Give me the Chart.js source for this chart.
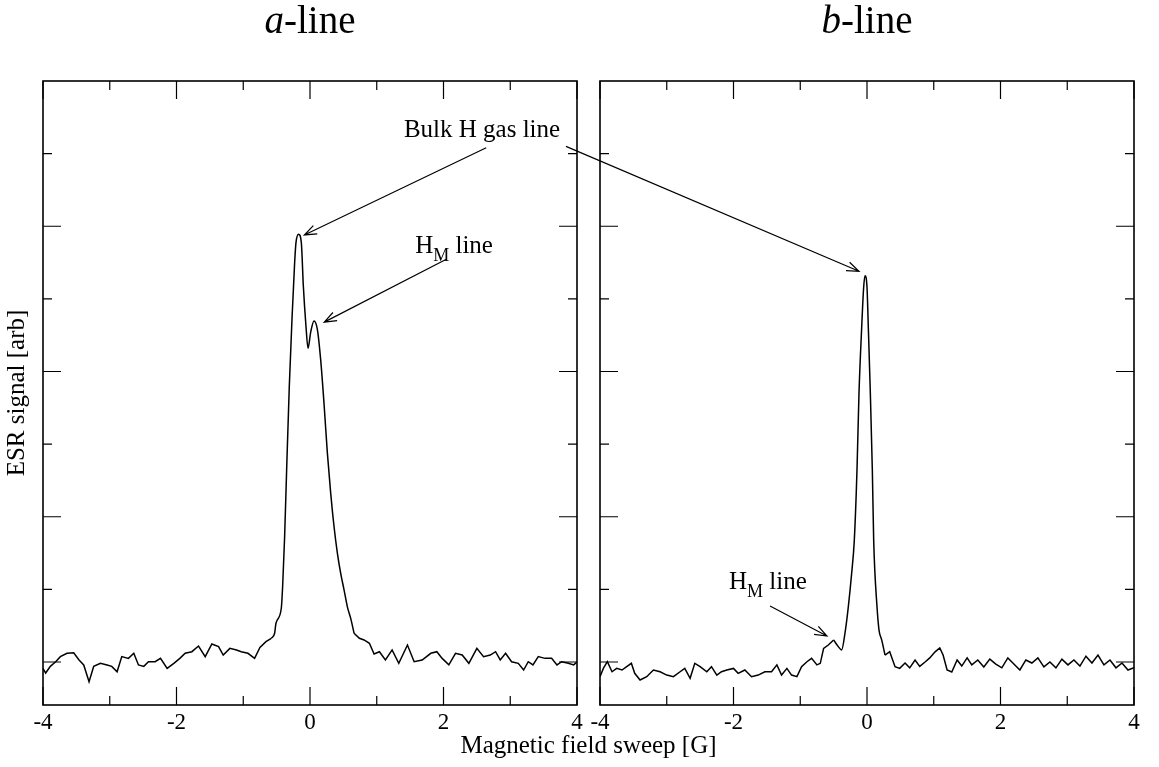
<!DOCTYPE html>
<html>
<head>
<meta charset="utf-8">
<script src="https://cdn.jsdelivr.net/npm/chart.js@4"></script>
<style>
  html, body { margin: 0; padding: 0; background: #fff; }
  #wrap { position: relative; width: 1159px; height: 767px; }
  #wrap canvas { position: absolute; left: 0; top: 0; }
</style>
</head>
<body>
<div id="wrap">
  <canvas id="chartA" width="1159" height="767"></canvas>
  <canvas id="chartB" width="1159" height="767"></canvas>
</div>
<script>
// a-line sweep (field in G, signal in arb units)
const fieldA = [
  -4.00,-3.96,-3.89,-3.81,-3.74,-3.64,-3.54,-3.46,-3.39,-3.31,
  -3.24,-3.14,-3.04,-2.97,-2.89,-2.82,-2.72,-2.64,-2.57,-2.49,
  -2.42,-2.32,-2.24,-2.14,-2.04,-1.95,-1.87,-1.77,-1.67,-1.57,
  -1.47,-1.37,-1.30,-1.20,-1.10,-1.03,-0.93,-0.83,-0.75,-0.66,
  -0.58,-0.53,-0.51,-0.43,-0.41,-0.38,-0.35,-0.31,-0.27,-0.23,
  -0.21,-0.17,-0.13,-0.10,-0.06,-0.03,0.01,0.06,0.11,0.16,
  0.21,0.26,0.31,0.36,0.41,0.46,0.51,0.56,0.61,0.66,
  0.74,0.81,0.89,0.96,1.04,1.13,1.23,1.33,1.46,1.56,
  1.68,1.81,1.90,1.98,2.08,2.18,2.28,2.38,2.50,2.60,
  2.70,2.78,2.85,2.93,3.02,3.12,3.20,3.27,3.34,3.42,
  3.52,3.62,3.70,3.77,3.87,3.95,4.00
];
const signalA = [
  -0.044,-0.076,-0.03,0.002,0.037,0.06,0.064,0.014,-0.02,-0.136,
  -0.03,-0.009,-0.02,-0.03,-0.067,0.037,0.025,0.06,-0.02,-0.03,
  0.002,0.002,0.025,-0.044,-0.009,0.025,0.06,0.071,0.11,0.037,
  0.124,0.106,0.048,0.094,0.083,0.071,0.06,0.025,0.10,0.14,
  0.163,0.198,0.267,0.37,0.52,0.864,1.324,1.9,2.36,2.75,
  2.887,2.945,2.887,2.59,2.31,2.16,2.27,2.347,2.29,2.08,
  1.78,1.44,1.163,0.933,0.75,0.61,0.497,0.38,0.30,0.198,
  0.163,0.152,0.129,0.055,0.071,0.014,0.083,-0.009,0.117,0.002,
  0.014,0.06,0.071,0.025,-0.02,0.06,0.048,-0.009,0.094,0.037,
  0.048,0.071,0.014,0.06,0.002,-0.009,-0.055,0.002,-0.02,0.037,
  0.025,0.025,-0.02,0.002,-0.009,-0.02,0.0
];

// b-line sweep
const fieldB = [
  -4.00,-3.95,-3.89,-3.82,-3.75,-3.67,-3.60,-3.53,-3.48,-3.40,
  -3.30,-3.20,-3.10,-3.00,-2.90,-2.80,-2.73,-2.65,-2.58,-2.50,
  -2.40,-2.33,-2.25,-2.18,-2.10,-2.00,-1.93,-1.83,-1.73,-1.63,
  -1.53,-1.43,-1.35,-1.28,-1.20,-1.13,-1.05,-0.98,-0.90,-0.83,
  -0.75,-0.70,-0.65,-0.58,-0.50,-0.43,-0.38,-0.33,-0.28,-0.23,
  -0.19,-0.15,-0.12,-0.08,-0.05,-0.03,0.00,0.02,0.05,0.08,
  0.10,0.15,0.18,0.22,0.27,0.34,0.42,0.49,0.57,0.64,
  0.72,0.79,0.87,0.94,1.02,1.09,1.14,1.20,1.27,1.35,
  1.42,1.50,1.57,1.66,1.75,1.84,1.93,2.02,2.11,2.20,
  2.29,2.38,2.47,2.56,2.65,2.74,2.83,2.92,3.01,3.10,
  3.19,3.28,3.37,3.46,3.55,3.64,3.73,3.82,3.91,4.00
];
const signalB = [
  -0.101,-0.044,0.002,-0.067,-0.044,-0.055,-0.032,-0.009,-0.078,-0.124,
  -0.101,-0.055,-0.067,-0.09,-0.101,-0.067,-0.044,-0.112,-0.009,-0.032,
  -0.067,-0.032,-0.09,-0.067,-0.055,-0.044,-0.078,-0.055,-0.101,-0.09,
  -0.067,-0.067,-0.02,-0.09,-0.044,-0.09,-0.101,-0.032,0.002,0.025,
  -0.02,-0.009,0.094,0.117,0.152,0.106,0.083,0.198,0.38,0.61,
  0.84,1.32,1.85,2.3,2.58,2.66,2.58,2.3,1.85,1.32,
  0.84,0.38,0.22,0.152,0.048,0.071,-0.032,-0.044,-0.007,-0.04,
  0.014,-0.03,0,0.028,0.07,0.097,0.048,-0.055,-0.069,0.014,
  -0.028,0.028,-0.02,0.014,-0.034,0.02,-0.014,-0.04,0.028,-0.014,
  -0.055,0.014,-0.007,0.028,-0.034,0,-0.04,0.02,-0.02,0.014,
  -0.028,0.04,-0.007,0.048,-0.02,0.014,-0.04,-0.007,-0.055,-0.04
];

// axes
const xTicks = [-4, -3, -2, -1, 0, 1, 2, 3, 4];
const xLabelValues = [-4, -2, 0, 2, 4];
const xTickLabels = ['-4', '-2', '0', '2', '4'];
const yTicks = [0, 0.5, 1, 1.5, 2, 2.5, 3, 3.5];
const yMajor = [0, 1, 2, 3];

const SERIF = '"Liberation Serif", "Times New Roman", serif';
Chart.defaults.font.family = SERIF;
Chart.defaults.color = '#000';

function arrow(ctx, x1, y1, x2, y2) {
  const a = Math.atan2(y2 - y1, x2 - x1), L = 13, w = 0.36;
  ctx.beginPath();
  ctx.moveTo(x1, y1);
  ctx.lineTo(x2, y2);
  ctx.moveTo(x2 - L * Math.cos(a - w), y2 - L * Math.sin(a - w));
  ctx.lineTo(x2, y2);
  ctx.lineTo(x2 - L * Math.cos(a + w), y2 - L * Math.sin(a + w));
  ctx.stroke();
}

// H with subscript M followed by " line"
function hmLabel(ctx, x, y) {
  ctx.font = '25px ' + SERIF;
  ctx.fillText('H', x, y);
  let w = ctx.measureText('H').width;
  ctx.font = '18px ' + SERIF;
  ctx.fillText('M', x + w, y + 8);
  w += ctx.measureText('M').width;
  ctx.font = '25px ' + SERIF;
  ctx.fillText(' line', x + w, y);
}

function panelTitle(ctx, cx, y, letter) {
  ctx.font = 'italic 39px ' + SERIF;
  const w1 = ctx.measureText(letter).width;
  ctx.font = '39px ' + SERIF;
  const w2 = ctx.measureText('-line').width;
  const x0 = cx - (w1 + w2) / 2;
  ctx.textAlign = 'left';
  ctx.font = 'italic 39px ' + SERIF;
  ctx.fillText(letter, x0, y);
  ctx.font = '39px ' + SERIF;
  ctx.fillText('-line', x0 + w1, y);
}

const framePlugin = {
  id: 'frame',
  afterDraw(chart) {
    const { ctx, chartArea: a, scales: { x, y } } = chart;
    ctx.save();
    ctx.strokeStyle = '#000';
    ctx.lineWidth = 1.6;
    ctx.strokeRect(a.left, a.top, a.right - a.left, a.bottom - a.top);
    ctx.lineWidth = 1.2;
    ctx.beginPath();
    xTicks.forEach(v => {
      const px = x.getPixelForValue(v);
      const len = xLabelValues.includes(v) ? 18 : 9;
      ctx.moveTo(px, a.bottom); ctx.lineTo(px, a.bottom - len);
      ctx.moveTo(px, a.top); ctx.lineTo(px, a.top + len);
    });
    yTicks.forEach(v => {
      const py = y.getPixelForValue(v);
      const len = yMajor.includes(v) ? 18 : 9;
      ctx.moveTo(a.left, py); ctx.lineTo(a.left + len, py);
      ctx.moveTo(a.right, py); ctx.lineTo(a.right - len, py);
    });
    ctx.stroke();
    ctx.restore();
  }
};

const notesA = {
  id: 'notesA',
  afterDraw(chart) {
    const { ctx, chartArea: a, scales: { x, y } } = chart;
    ctx.save();
    ctx.fillStyle = '#000';
    ctx.strokeStyle = '#000';
    ctx.lineWidth = 1.2;
    ctx.textBaseline = 'alphabetic';
    panelTitle(ctx, (a.left + a.right) / 2, 33, 'a');
    // y axis title
    ctx.save();
    ctx.translate(17, (a.top + a.bottom) / 2);
    ctx.rotate(-Math.PI / 2);
    ctx.font = '25px ' + SERIF;
    ctx.textAlign = 'center';
    ctx.textBaseline = 'middle';
    ctx.fillText('ESR signal [arb]', 0, 0);
    ctx.restore();
    // Bulk H gas line
    ctx.font = '25px ' + SERIF;
    ctx.textAlign = 'left';
    ctx.fillText('Bulk H gas line', x.getPixelForValue(1.407), y.getPixelForValue(3.614));
    arrow(ctx, x.getPixelForValue(2.64), y.getPixelForValue(3.54),
      x.getPixelForValue(-0.085), y.getPixelForValue(2.94));
    // H_M line
    hmLabel(ctx, x.getPixelForValue(1.575), y.getPixelForValue(2.816));
    arrow(ctx, x.getPixelForValue(2.05), y.getPixelForValue(2.775),
      x.getPixelForValue(0.213), y.getPixelForValue(2.34));
    ctx.restore();
  }
};

const notesB = {
  id: 'notesB',
  afterDraw(chart) {
    const { ctx, chartArea: a, scales: { x, y } } = chart;
    ctx.save();
    ctx.fillStyle = '#000';
    ctx.strokeStyle = '#000';
    ctx.lineWidth = 1.2;
    panelTitle(ctx, (a.left + a.right) / 2, 33, 'b');
    // shared x axis title, centred between the panels
    const mid = (chartA.chartArea.right + a.left) / 2;
    ctx.font = '25px ' + SERIF;
    ctx.textAlign = 'center';
    ctx.fillText('Magnetic field sweep [G]', mid, 753);
    // long arrow from Bulk H label to the b-line peak
    arrow(ctx, x.getPixelForValue(-4.51), y.getPixelForValue(3.55),
      x.getPixelForValue(-0.12), y.getPixelForValue(2.69));
    ctx.textAlign = 'left';
    hmLabel(ctx, x.getPixelForValue(-2.067), y.getPixelForValue(0.503));
    arrow(ctx, x.getPixelForValue(-1.453), y.getPixelForValue(0.386),
      x.getPixelForValue(-0.6), y.getPixelForValue(0.179));
    ctx.restore();
  }
};

// noisy baseline drawn with straight segments, the resonance peak smoothed
function makeChart(id, fields, signals, peak, pad, plugin) {
  const inPeak = f => f >= peak[0] && f <= peak[1];
  const base = fields.map((f, i) => ({
    x: f, y: (f > peak[0] && f < peak[1]) ? null : signals[i]
  }));
  const top = fields.map((f, i) => ({ x: f, y: signals[i] }))
    .filter(p => inPeak(p.x));
  const style = { borderColor: '#000', borderWidth: 1.5, pointRadius: 0, fill: false };
  return new Chart(document.getElementById(id), {
    type: 'line',
    data: {
      datasets: [
        { ...style, data: base, tension: 0, spanGaps: false },
        { ...style, data: top, cubicInterpolationMode: 'monotone' }
      ]
    },
    options: {
      responsive: false,
      animation: false,
      layout: { padding: pad },
      plugins: { legend: { display: false }, tooltip: { enabled: false } },
      scales: {
        x: {
          type: 'linear',
          min: -4,
          max: 4,
          grid: { display: false, drawTicks: false },
          border: { display: false },
          ticks: {
            stepSize: 1,
            autoSkip: false,
            maxRotation: 0,
            padding: 4,
            color: '#000',
            font: { size: 23, family: SERIF },
            callback: v => {
              const i = xLabelValues.indexOf(v);
              return i >= 0 ? xTickLabels[i] : '';
            }
          },
          afterFit: s => { s.height = 62; }
        },
        y: {
          display: false,
          min: -0.296,
          max: 4
        }
      }
    },
    plugins: [framePlugin, plugin]
  });
}

const chartA = makeChart('chartA', fieldA, signalA, [-0.58, 0.66],
  { left: 43, top: 81, right: 582, bottom: 0 }, notesA);
const chartB = makeChart('chartB', fieldB, signalB, [-0.50, 0.27],
  { left: 600, top: 81, right: 25, bottom: 0 }, notesB);
</script>
</body>
</html>
